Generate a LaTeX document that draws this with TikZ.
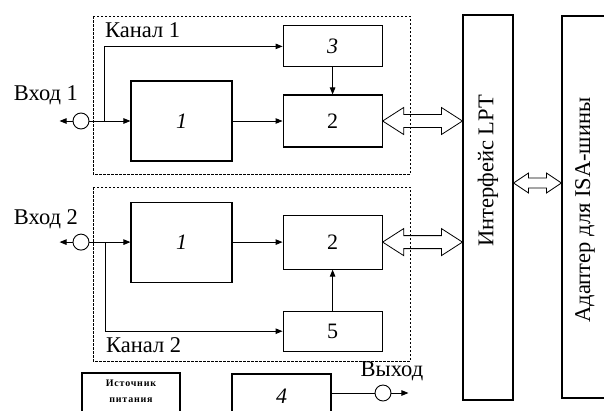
\documentclass[tikz,border=0pt]{standalone}
\usepackage{fontspec}
\setmainfont{Liberation Serif}
\usetikzlibrary{positioning,calc,arrows.meta}

\tikzset{
	block/.style={draw, line width=1.1pt, inner sep=0pt, font=\fontsize{22}{24}\selectfont},
	port/.style={draw, circle, line width=0.9pt, minimum size=16pt, inner sep=0pt},
	channel/.style={draw, line width=0.8pt, dash pattern=on 2.5pt off 1.5pt},
	signal/.style={line width=0.9pt, -{Triangle[length=7pt,width=5.5pt]}},
	bus/.style={draw, line width=0.8pt},
	lbl/.style={inner sep=0pt, font=\fontsize{22.5}{24}\selectfont},
}

\newcommand\busarrow[5]{%
	\draw[bus] (#1) -- ++(#5,#4) -- ++(0,#3-#4) -- ($(#2)+(-#5,#3)$) -- ++(0,#4-#3) -- (#2)
		-- ++(-#5,-#4) -- ++(0,#4-#3) -- ($(#1)+(#5,-#3)$) -- ++(0,#3-#4) -- cycle;}

\begin{document}
\begin{tikzpicture}[x=1pt, y=-1pt]
		\useasboundingbox (0,0) rectangle (604,410);
	
		\draw[channel] (93,16) rectangle (410,174);
		\draw[channel] (93,187) rectangle (410,361);
	
		\node[block, minimum width=101pt, minimum height=80pt] (blk1a) at (181.5,121) {\itshape 1};
		\node[block, minimum width=99pt, minimum height=52pt, right=50pt of blk1a] (blk2a) {2};
		\node[block, minimum width=99pt, minimum height=41pt, above=27pt of blk2a] (blk3) {\itshape 3};
		\node[port, left=41pt of blk1a] (in1) {};
	
		\node[block, minimum width=101pt, minimum height=80pt, below=40pt of blk1a] (blk1b) {\itshape 1};
		\node[block, minimum width=99pt, minimum height=54pt, right=50pt of blk1b] (blk2b) {2};
		\node[block, minimum width=99pt, minimum height=40pt, below=41pt of blk2b] (blk5) {5};
		\node[port, left=41pt of blk1b] (in2) {};
	
		\node[block, minimum width=50pt, minimum height=385pt] (lpt) at (488,207.5) {};
		\node[block, minimum width=46pt, minimum height=382pt] (isa) at (585,207) {};
		\node[lbl, rotate=90] (lpttext) at (488,171) {Интерфейс LPT};
		\node[lbl, rotate=90] (isatext) at (585,210) {Адаптер для ISA-шины};
	
		\node[block, minimum width=98pt, minimum height=44pt] (power) at (131,395) {};
		\node[inner sep=0pt, align=center, anchor=north, font=\fontsize{10}{16}\selectfont\bfseries\addfontfeatures{LetterSpace=8}] (powertext) at (131,380) {Источник\\питания};
		\node[block, minimum width=99pt, minimum height=44pt] (blk4) at (281.5,396) {\itshape 4};
		\node[port] (out) at (383,393) {};
	
		\node[lbl, anchor=west] (ch1) at (105,30) {Канал 1};
		\node[lbl, anchor=west] (ch2) at (106,345) {Канал 2};
		\node[lbl] (inlbl1) at (46,95) {Вход 1};
		\node[lbl] (inlbl2) at (46,219) {Вход 2};
		\node[lbl] (outlbl) at (392,371) {Выход};
	
		\coordinate[left=13pt of in1] (src1);
		\coordinate[left=13pt of in2] (src2);
		\coordinate[right=17pt of out] (snk);
		\coordinate (j1) at ($(in1.east)!0.36!(blk1a.west)$);
		\coordinate (j2) at ($(in2.east)!0.4!(blk1b.west)$);
		\coordinate (lnk) at (0,183);
	
		\draw[signal] (in1.west) -- (src1);
		\draw[signal] (in1.east) -- (blk1a.west);
		\draw[signal] (j1) |- (blk3.west);
		\draw[signal] (blk1a.east) -- (blk1a.east -| blk2a.west);
		\draw[signal] (blk3) -- (blk2a);
	
		\draw[signal] (in2.west) -- (src2);
		\draw[signal] (in2.east) -- (blk1b.west);
		\draw[signal] (j2) |- (blk5.west);
		\draw[signal] (blk1b.east) -- (blk1b.east -| blk2b.west);
		\draw[signal] (blk5) -- (blk2b);
	
		\draw[line width=0.9pt] (blk4.east |- out) -- (out.west);
		\draw[signal] (out.east) -- (snk);
	
		\busarrow{blk2a.east}{lpt.west |- blk2a.east}{6.5}{13.5}{21}
		\busarrow{blk2b.east}{lpt.west |- blk2b.east}{6.5}{13.5}{21}
		\busarrow{lpt.east |- lnk}{isa.west |- lnk}{5}{10}{15}
	
\end{tikzpicture}
\end{document}
